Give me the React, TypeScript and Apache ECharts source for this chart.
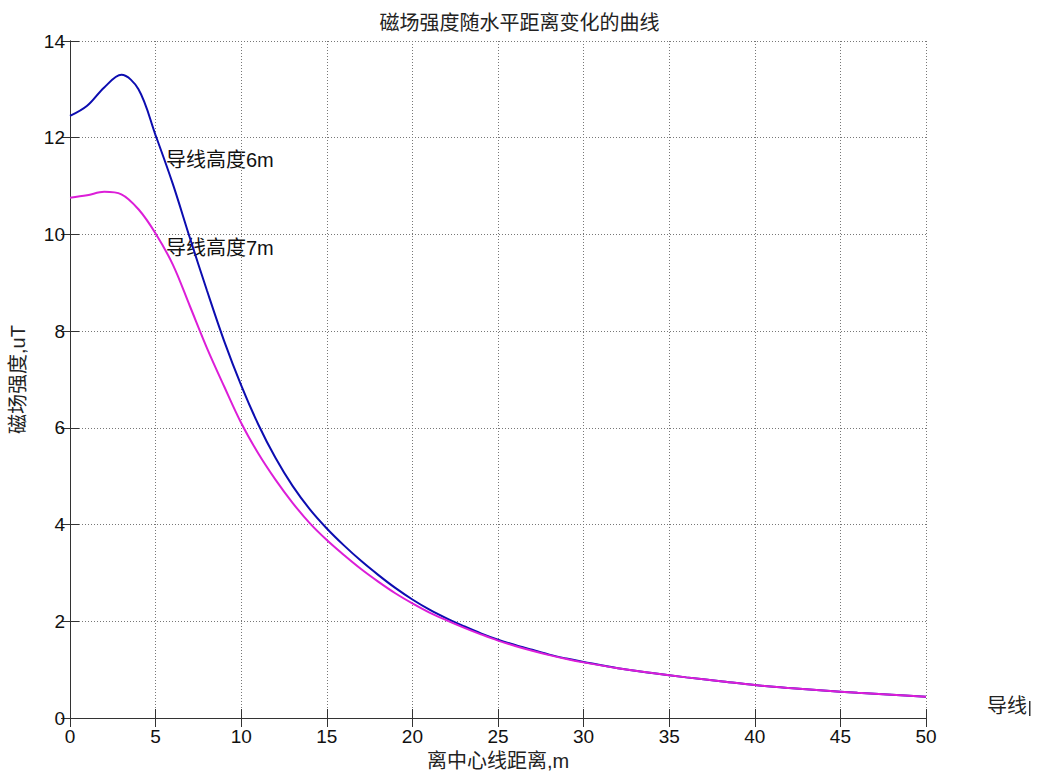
import React, { useEffect, useRef } from "react";
import * as echarts from "echarts";

const titleText = "磁场强度随水平距离变化的曲线";
const xName = "离中心线距离,m";
const yName = "磁场强度,uT";
const label6 = "导线高度6m";
const label7 = "导线高度7m";
const clippedLabel = "导线";

const xTicks = { min: 0, max: 50, interval: 5 };
const yTicks = { min: 0, max: 14, interval: 2 };

const dist = [0, 1, 2, 3, 4, 5, 6, 7, 8, 9, 10,
  11, 12, 13, 14, 15, 16, 17, 18, 19, 20, 21, 22, 23, 24, 25, 26, 27, 28, 29, 30,
  32, 34, 36, 38, 40, 42, 44, 46, 48, 50];

// 导线高度6m (blue)
const field6 = [12.45, 12.66, 13.04, 13.3, 13.0, 12.05, 11.05, 9.93, 8.84, 7.8, 6.88,
  6.07, 5.38, 4.8, 4.32, 3.92, 3.57, 3.25, 2.96, 2.69, 2.45, 2.24, 2.06, 1.9, 1.75, 1.62, 1.51, 1.41, 1.31, 1.23, 1.16,
  1.03, 0.93, 0.84, 0.76, 0.68, 0.62, 0.57, 0.52, 0.48, 0.44];

// 导线高度7m (magenta)
const field7 = [10.76, 10.81, 10.88, 10.83, 10.52, 10.02, 9.38, 8.52, 7.65, 6.86, 6.1,
  5.47, 4.93, 4.45, 4.03, 3.68, 3.37, 3.08, 2.82, 2.58, 2.37, 2.18, 2.02, 1.87, 1.73, 1.6, 1.49, 1.39, 1.3, 1.22, 1.15,
  1.03, 0.93, 0.84, 0.76, 0.68, 0.62, 0.57, 0.52, 0.48, 0.44];

const FONT = "'Liberation Sans', 'Noto Sans CJK SC', sans-serif";

export default function App() {
  const ref = useRef<HTMLDivElement>(null);
  useEffect(() => {
    if (!ref.current) return;
    const chart = echarts.init(ref.current, undefined, { renderer: "svg" });
    const axisLine = { show: true, lineStyle: { color: "#333", width: 1 } };
    const tick = { show: true, inside: true, length: 9, lineStyle: { color: "#333" } };
    const grid = { show: true, lineStyle: { color: "#777", type: [1, 2] as any, width: 1 } };
    chart.setOption({
      animation: false,
      backgroundColor: "#fff",
      textStyle: { fontFamily: FONT },
      title: {
        text: titleText,
        left: "center",
        top: 8,
        textStyle: { fontFamily: FONT, fontSize: 20, fontWeight: "normal", color: "#222" },
      },
      grid: { left: 67, right: 113, top: 41, bottom: 59, containLabel: false },
      xAxis: [
        {
          type: "value",
          position: "bottom",
          min: xTicks.min,
          max: xTicks.max,
          interval: xTicks.interval,
          name: xName,
          nameLocation: "middle",
          nameGap: 31,
          nameTextStyle: { fontFamily: FONT, fontSize: 20, color: "#222", verticalAlign: "top" },
          axisLine,
          axisTick: tick,
          axisLabel: { fontFamily: FONT, fontSize: 19, color: "#111", margin: 9 },
          splitLine: grid,
        },
        {
          type: "value",
          position: "top",
          min: xTicks.min,
          max: xTicks.max,
          interval: xTicks.interval,
          axisLine,
          axisTick: tick,
          axisLabel: { show: false },
          splitLine: { show: false },
        },
      ],
      yAxis: [
        {
          type: "value",
          position: "left",
          min: yTicks.min,
          max: yTicks.max,
          interval: yTicks.interval,
          name: yName,
          nameLocation: "middle",
          nameRotate: 90,
          nameGap: 42,
          nameTextStyle: { fontFamily: FONT, fontSize: 20, color: "#222" },
          axisLine,
          axisTick: tick,
          axisLabel: { fontFamily: FONT, fontSize: 19, color: "#111", margin: 5 },
          splitLine: grid,
        },
        {
          type: "value",
          position: "right",
          min: yTicks.min,
          max: yTicks.max,
          interval: yTicks.interval,
          axisLine,
          axisTick: tick,
          axisLabel: { show: false },
          splitLine: { show: false },
        },
      ],
      series: [
        {
          name: label6,
          type: "line",
          xAxisIndex: 0,
          yAxisIndex: 0,
          data: dist.map((d, i) => [d, field6[i]]),
          smooth: 0.35,
          showSymbol: false,
          lineStyle: { color: "#0c0cb0", width: 2 },
          itemStyle: { color: "#0c0cb0" },
        },
        {
          name: label7,
          type: "line",
          xAxisIndex: 0,
          yAxisIndex: 0,
          data: dist.map((d, i) => [d, field7[i]]),
          smooth: 0.35,
          showSymbol: false,
          lineStyle: { color: "#dc1ed8", width: 2 },
          itemStyle: { color: "#dc1ed8" },
        },
      ],
      graphic: [
        {
          type: "text",
          left: 166,
          top: 150,
          style: { text: label6, font: `20px ${FONT}`, fill: "#111" },
        },
        {
          type: "text",
          left: 166,
          top: 238,
          style: { text: label7, font: `20px ${FONT}`, fill: "#111" },
        },
        {
          type: "text",
          left: 987,
          top: 696,
          style: { text: clippedLabel, font: `20px ${FONT}`, fill: "#222" },
        },
        {
          type: "rect",
          left: 1029,
          top: 701,
          shape: { x: 0, y: 0, width: 1.5, height: 15 },
          style: { fill: "#333" },
        },
      ],
    });
    return () => chart.dispose();
  }, []);
  return (
    <div
      ref={ref}
      style={{ position: "fixed", left: 0, top: 0, width: 1039, height: 777, background: "#fff" }}
    />
  );
}
